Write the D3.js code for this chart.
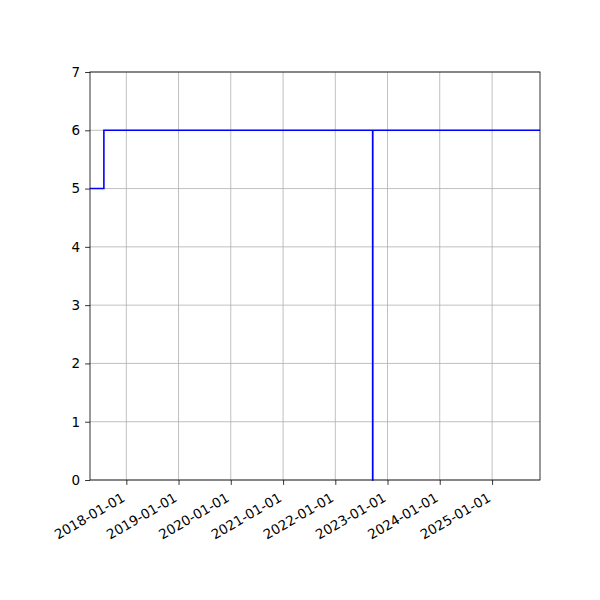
<!DOCTYPE html>
<html>
<head>
<meta charset="utf-8">
<script src="https://cdn.jsdelivr.net/npm/d3@7"></script>
<style>
  body { margin: 0; background: #fff; }
  text { font-family: "DejaVu Sans", sans-serif; }
</style>
</head>
<body>
<svg id="chart"></svg>
<script>
// step series
const dates = ['2017-04-22', '2017-07-28', '2022-09-19', '2022-09-20', '2025-12-02'];
const values = [5, 6, 0, 6, 6];
const yTicks = [0, 1, 2, 3, 4, 5, 6, 7];
const xTicks = ['2018-01-01', '2019-01-01', '2020-01-01', '2021-01-01',
                '2022-01-01', '2023-01-01', '2024-01-01', '2025-01-01'];

const width = 600, height = 600;
const margin = { top: 72, right: 60, bottom: 120, left: 90 };
const parse = d3.utcParse('%Y-%m-%d');
const data = dates.map((d, i) => ({ date: parse(d), value: values[i] }));

const svg = d3.select('#chart').attr('width', width).attr('height', height);

const x = d3.scaleUtc()
  .domain(d3.extent(data, d => d.date))
  .range([margin.left, width - margin.right]);
const y = d3.scaleLinear()
  .domain([0, 7])
  .range([height - margin.bottom, margin.top]);

const fontSize = 13.5;

// grid
svg.append('g')
  .selectAll('line')
  .data(xTicks.map(parse))
  .enter().append('line')
  .attr('x1', d => x(d)).attr('x2', d => x(d))
  .attr('y1', y(0)).attr('y2', y(7))
  .attr('stroke', '#b0b0b0').attr('stroke-width', 0.8);

svg.append('g')
  .selectAll('line')
  .data(yTicks)
  .enter().append('line')
  .attr('x1', margin.left).attr('x2', width - margin.right)
  .attr('y1', d => y(d)).attr('y2', d => y(d))
  .attr('stroke', '#b0b0b0').attr('stroke-width', 0.8);

// line
const line = d3.line()
  .x(d => x(d.date))
  .y(d => y(d.value))
  .curve(d3.curveStepAfter);

svg.append('path')
  .datum(data)
  .attr('d', line)
  .attr('fill', 'none')
  .attr('stroke', '#0000ff')
  .attr('stroke-width', 1.6);

// axes
const xAxis = svg.append('g')
  .attr('transform', `translate(0,${y(0)})`)
  .call(d3.axisBottom(x).tickValues(xTicks.map(parse)).tickSize(4.9).tickFormat(d3.utcFormat('%Y-%m-%d')));
xAxis.select('.domain').remove();
xAxis.selectAll('line').attr('stroke', '#000').attr('stroke-width', 0.8);
xAxis.selectAll('text')
  .attr('font-size', fontSize)
  .attr('fill', '#000')
  .attr('text-anchor', 'end')
  .attr('x', null).attr('y', null).attr('dy', null)
  .attr('transform', 'translate(-1,20.5) rotate(-30)');

const yAxis = svg.append('g')
  .attr('transform', `translate(${margin.left},0)`)
  .call(d3.axisLeft(y).tickValues(yTicks).tickFormat(d3.format('d')).tickSize(4.9).tickPadding(4.9));
yAxis.select('.domain').remove();
yAxis.selectAll('line').attr('stroke', '#000').attr('stroke-width', 0.8);
yAxis.selectAll('text').attr('font-size', fontSize).attr('fill', '#000');

// frame
svg.append('rect')
  .attr('x', margin.left).attr('y', margin.top)
  .attr('width', width - margin.left - margin.right)
  .attr('height', height - margin.top - margin.bottom)
  .attr('fill', 'none').attr('stroke', '#000').attr('stroke-width', 0.8);
</script>
</body>
</html>
